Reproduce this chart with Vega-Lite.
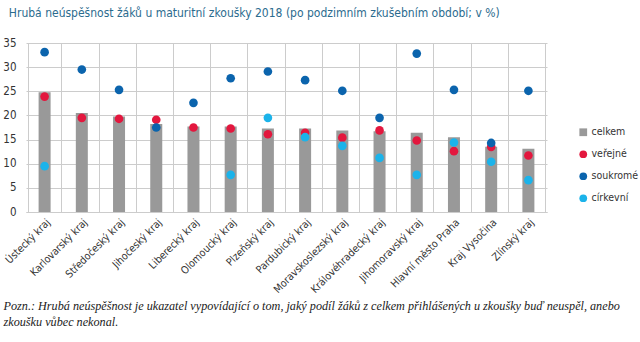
{
  "$schema": "https://vega.github.io/schema/vega-lite/v6.json",
  "width": 521,
  "height": 169,
  "autosize": {"type": "none"},
  "padding": {"left": 26, "top": 43, "right": 93, "bottom": 130},
  "background": "white",
  "config": {
    "view": {"stroke": null},
    "font": "DejaVu Sans Condensed, Roboto, sans-serif",
    "axis": {"labelFont": "DejaVu Sans Condensed, Roboto, sans-serif", "labelColor": "#333333", "gridColor": "#cccccc", "domain": false, "ticks": false}
  },
  "title": {
    "text": "Hrubá neúspěšnost žáků u maturitní zkoušky 2018 (po podzimním zkušebním období; v %)",
    "anchor": "start",
    "dx": 6,
    "offset": 17,
    "fontSize": 12,
    "fontWeight": "normal",
    "color": "#2b6b8e",
    "font": "DejaVu Sans Condensed, Roboto, sans-serif"
  },
  "data": {
    "values": [
      {"kraj": "Ústecký kraj", "typ": "celkem", "hodnota": 24.8},
      {"kraj": "Ústecký kraj", "typ": "veřejné", "hodnota": 23.9},
      {"kraj": "Ústecký kraj", "typ": "soukromé", "hodnota": 33.1},
      {"kraj": "Ústecký kraj", "typ": "církevní", "hodnota": 9.5},
      {"kraj": "Karlovarský kraj", "typ": "celkem", "hodnota": 20.5},
      {"kraj": "Karlovarský kraj", "typ": "veřejné", "hodnota": 19.5},
      {"kraj": "Karlovarský kraj", "typ": "soukromé", "hodnota": 29.5},
      {"kraj": "Středočeský kraj", "typ": "celkem", "hodnota": 19.8},
      {"kraj": "Středočeský kraj", "typ": "veřejné", "hodnota": 19.3},
      {"kraj": "Středočeský kraj", "typ": "soukromé", "hodnota": 25.3},
      {"kraj": "Jihočeský kraj", "typ": "celkem", "hodnota": 18.2},
      {"kraj": "Jihočeský kraj", "typ": "veřejné", "hodnota": 19.1},
      {"kraj": "Jihočeský kraj", "typ": "soukromé", "hodnota": 17.5},
      {"kraj": "Liberecký kraj", "typ": "celkem", "hodnota": 17.7},
      {"kraj": "Liberecký kraj", "typ": "veřejné", "hodnota": 17.5},
      {"kraj": "Liberecký kraj", "typ": "soukromé", "hodnota": 22.6},
      {"kraj": "Olomoucký kraj", "typ": "celkem", "hodnota": 17.7},
      {"kraj": "Olomoucký kraj", "typ": "veřejné", "hodnota": 17.3},
      {"kraj": "Olomoucký kraj", "typ": "soukromé", "hodnota": 27.7},
      {"kraj": "Olomoucký kraj", "typ": "církevní", "hodnota": 7.7},
      {"kraj": "Plzeňský kraj", "typ": "celkem", "hodnota": 17.3},
      {"kraj": "Plzeňský kraj", "typ": "veřejné", "hodnota": 16.1},
      {"kraj": "Plzeňský kraj", "typ": "soukromé", "hodnota": 29.1},
      {"kraj": "Plzeňský kraj", "typ": "církevní", "hodnota": 19.5},
      {"kraj": "Pardubický kraj", "typ": "celkem", "hodnota": 17.3},
      {"kraj": "Pardubický kraj", "typ": "veřejné", "hodnota": 16.4},
      {"kraj": "Pardubický kraj", "typ": "soukromé", "hodnota": 27.3},
      {"kraj": "Pardubický kraj", "typ": "církevní", "hodnota": 15.5},
      {"kraj": "Moravskoslezský kraj", "typ": "celkem", "hodnota": 16.9},
      {"kraj": "Moravskoslezský kraj", "typ": "veřejné", "hodnota": 15.4},
      {"kraj": "Moravskoslezský kraj", "typ": "soukromé", "hodnota": 25.1},
      {"kraj": "Moravskoslezský kraj", "typ": "církevní", "hodnota": 13.7},
      {"kraj": "Královéhradecký kraj", "typ": "celkem", "hodnota": 16.7},
      {"kraj": "Královéhradecký kraj", "typ": "veřejné", "hodnota": 16.9},
      {"kraj": "Královéhradecký kraj", "typ": "soukromé", "hodnota": 19.5},
      {"kraj": "Královéhradecký kraj", "typ": "církevní", "hodnota": 11.2},
      {"kraj": "Jihomoravský kraj", "typ": "celkem", "hodnota": 16.4},
      {"kraj": "Jihomoravský kraj", "typ": "veřejné", "hodnota": 14.8},
      {"kraj": "Jihomoravský kraj", "typ": "soukromé", "hodnota": 32.8},
      {"kraj": "Jihomoravský kraj", "typ": "církevní", "hodnota": 7.7},
      {"kraj": "Hlavní město Praha", "typ": "celkem", "hodnota": 15.5},
      {"kraj": "Hlavní město Praha", "typ": "veřejné", "hodnota": 12.6},
      {"kraj": "Hlavní město Praha", "typ": "soukromé", "hodnota": 25.3},
      {"kraj": "Hlavní město Praha", "typ": "církevní", "hodnota": 14.4},
      {"kraj": "Kraj Vysočina", "typ": "celkem", "hodnota": 13.5},
      {"kraj": "Kraj Vysočina", "typ": "veřejné", "hodnota": 13.5},
      {"kraj": "Kraj Vysočina", "typ": "soukromé", "hodnota": 14.3},
      {"kraj": "Kraj Vysočina", "typ": "církevní", "hodnota": 10.4},
      {"kraj": "Zlínský kraj", "typ": "celkem", "hodnota": 13.1},
      {"kraj": "Zlínský kraj", "typ": "veřejné", "hodnota": 11.7},
      {"kraj": "Zlínský kraj", "typ": "soukromé", "hodnota": 25.1},
      {"kraj": "Zlínský kraj", "typ": "církevní", "hodnota": 6.6}
    ]
  },
  "encoding": {
    "x": {
      "field": "kraj",
      "type": "nominal",
      "sort": null,
      "axis": {
        "labelAngle": -45,
        "labelFontSize": 10.5,
        "labelPadding": 5,
        "grid": true,
        "tickBand": "extent",
        "domain": true,
        "domainColor": "#cccccc",
        "title": [
          "Pozn.: Hrubá neúspěšnost je ukazatel vypovídající o tom, jaký podíl žáků z celkem přihlášených u zkoušky buď neuspěl, anebo",
          "zkoušku vůbec nekonal."
        ],
        "titleFont": "Liberation Serif",
        "titleFontStyle": "italic",
        "titleFontWeight": "normal",
        "titleFontSize": 12.2,
        "titleColor": "#222222",
        "titleAnchor": "start",
        "titleAlign": "left",
        "titleBaseline": "alphabetic",
        "titleLineHeight": 16,
        "titleX": -23,
        "titleY": 97
      }
    },
    "y": {
      "field": "hodnota",
      "type": "quantitative",
      "scale": {"domain": [0, 35]},
      "axis": {"values": [0, 5, 10, 15, 20, 25, 30, 35], "title": null, "labelFontSize": 11.5, "labelPadding": 10}
    },
    "color": {
      "field": "typ",
      "type": "nominal",
      "scale": {
        "domain": ["celkem", "veřejné", "soukromé", "církevní"],
        "range": ["#999999", "#e3173e", "#0b64ad", "#1bb3ea"]
      },
      "legend": {
        "title": null,
        "orient": "none",
        "legendX": 552,
        "legendY": 84,
        "labelFont": "DejaVu Sans Condensed, Roboto, sans-serif",
        "labelFontSize": 10.5,
        "labelColor": "#333333",
        "symbolSize": 60,
        "rowPadding": 11,
        "labelOffset": 3
      }
    }
  },
  "layer": [
    {
      "transform": [{"filter": "datum.typ === 'celkem'"}],
      "mark": {"type": "bar", "size": 12}
    },
    {
      "transform": [{"filter": "datum.typ !== 'celkem'"}],
      "mark": {"type": "point", "filled": true, "opacity": 1, "size": 75, "strokeWidth": 0.8},
      "encoding": {
        "shape": {
          "field": "typ",
          "type": "nominal",
          "scale": {"domain": ["celkem", "veřejné", "soukromé", "církevní"], "range": ["square", "circle", "circle", "circle"]},
          "legend": {
            "title": null,
            "orient": "none",
            "legendX": 552,
            "legendY": 84,
            "labelFont": "DejaVu Sans Condensed, Roboto, sans-serif",
            "labelFontSize": 10.5,
            "labelColor": "#333333",
            "symbolSize": 60,
            "rowPadding": 11,
            "labelOffset": 3
          }
        }
      }
    }
  ]
}
